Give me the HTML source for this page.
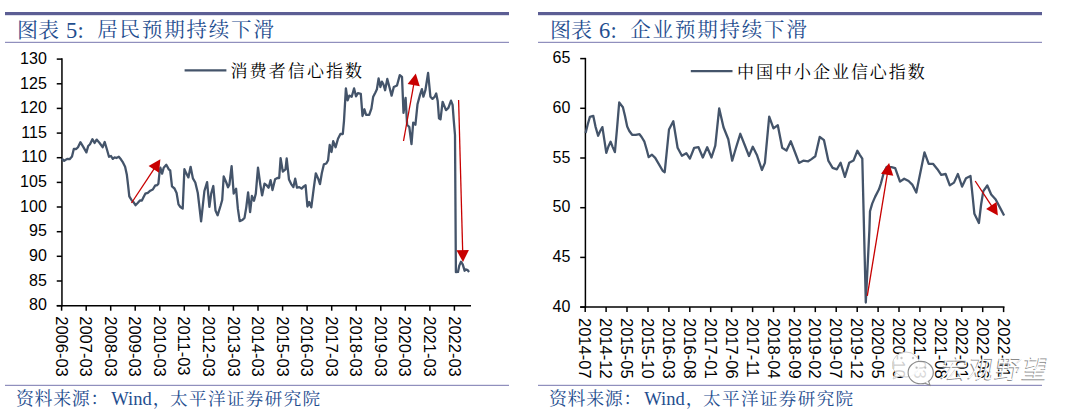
<!DOCTYPE html>
<html><head><meta charset="utf-8"><style>
html,body{margin:0;padding:0;background:#fff;}
svg{display:block;}
</style></head><body>
<svg width="1080" height="417" viewBox="0 0 1080 417">
<rect width="1080" height="417" fill="#fff"/>
<rect x="5" y="12" width="504" height="3.2" fill="#5c5e94"/><rect x="5" y="41.8" width="504" height="1.1" fill="#8483b6"/><rect x="5" y="384.8" width="504" height="1.1" fill="#8483b6"/><text x="17" y="37.3" font-family="'Noto Serif CJK SC','Liberation Serif',serif" font-size="21" fill="#1f4e8f" font-weight="400">图表</text><text x="66" y="37.7" font-family="'Liberation Serif','Noto Serif CJK SC',serif" font-size="22.5" fill="#1f4e8f">5</text><text x="77.5" y="37.7" font-family="'Liberation Serif','Noto Serif CJK SC',serif" font-size="22.5" fill="#1f4e8f">:</text><text x="97.3" y="36.9" font-family="'Noto Serif CJK SC','Liberation Serif',serif" font-size="20.5" fill="#1f4e8f" letter-spacing="1.8" font-weight="400">居民预期持续下滑</text><text x="16" y="405" font-family="'Noto Serif CJK SC','Liberation Serif',serif" font-size="18" fill="#1f4e8f" letter-spacing="0.6" font-weight="400">资料来源：</text><text x="111.3" y="405" font-family="'Liberation Serif','Noto Serif CJK SC',serif" font-size="18.5" fill="#1f4e8f">Wind</text><text x="152.7" y="405" font-family="'Noto Serif CJK SC','Liberation Serif',serif" font-size="18" fill="#1f4e8f" font-weight="400">，</text><text x="170" y="404.8" font-family="'Noto Serif CJK SC','Liberation Serif',serif" font-size="17.6" fill="#1f4e8f" letter-spacing="1.35" font-weight="400">太平洋证券研究院</text><text x="46.8" y="63.8" text-anchor="end" font-family="'Liberation Sans',Arial,sans-serif" font-size="16" fill="#000">130</text><line x1="56.75" y1="59.1" x2="61.95" y2="59.1" stroke="#000" stroke-width="1.5"/><text x="46.8" y="88.5" text-anchor="end" font-family="'Liberation Sans',Arial,sans-serif" font-size="16" fill="#000">125</text><line x1="56.75" y1="83.8" x2="61.95" y2="83.8" stroke="#000" stroke-width="1.5"/><text x="46.8" y="113.1" text-anchor="end" font-family="'Liberation Sans',Arial,sans-serif" font-size="16" fill="#000">120</text><line x1="56.75" y1="108.4" x2="61.95" y2="108.4" stroke="#000" stroke-width="1.5"/><text x="46.8" y="137.8" text-anchor="end" font-family="'Liberation Sans',Arial,sans-serif" font-size="16" fill="#000">115</text><line x1="56.75" y1="133.1" x2="61.95" y2="133.1" stroke="#000" stroke-width="1.5"/><text x="46.8" y="162.4" text-anchor="end" font-family="'Liberation Sans',Arial,sans-serif" font-size="16" fill="#000">110</text><line x1="56.75" y1="157.7" x2="61.95" y2="157.7" stroke="#000" stroke-width="1.5"/><text x="46.8" y="187.1" text-anchor="end" font-family="'Liberation Sans',Arial,sans-serif" font-size="16" fill="#000">105</text><line x1="56.75" y1="182.4" x2="61.95" y2="182.4" stroke="#000" stroke-width="1.5"/><text x="46.8" y="211.7" text-anchor="end" font-family="'Liberation Sans',Arial,sans-serif" font-size="16" fill="#000">100</text><line x1="56.75" y1="207.0" x2="61.95" y2="207.0" stroke="#000" stroke-width="1.5"/><text x="46.8" y="236.4" text-anchor="end" font-family="'Liberation Sans',Arial,sans-serif" font-size="16" fill="#000">95</text><line x1="56.75" y1="231.7" x2="61.95" y2="231.7" stroke="#000" stroke-width="1.5"/><text x="46.8" y="261.0" text-anchor="end" font-family="'Liberation Sans',Arial,sans-serif" font-size="16" fill="#000">90</text><line x1="56.75" y1="256.3" x2="61.95" y2="256.3" stroke="#000" stroke-width="1.5"/><text x="46.8" y="285.7" text-anchor="end" font-family="'Liberation Sans',Arial,sans-serif" font-size="16" fill="#000">85</text><line x1="56.75" y1="281.0" x2="61.95" y2="281.0" stroke="#000" stroke-width="1.5"/><text x="46.8" y="310.4" text-anchor="end" font-family="'Liberation Sans',Arial,sans-serif" font-size="16" fill="#000">80</text><line x1="56.75" y1="305.7" x2="61.95" y2="305.7" stroke="#000" stroke-width="1.5"/><line x1="61.95" y1="58.35" x2="61.95" y2="306.45" stroke="#000" stroke-width="1.5"/><line x1="56.75" y1="305.7" x2="471" y2="305.7" stroke="#000" stroke-width="1.5"/><line x1="61.6" y1="305.7" x2="61.6" y2="310.7" stroke="#000" stroke-width="1.5"/><text transform="translate(55.7,316.2) rotate(90)" font-family="'Liberation Sans',Arial,sans-serif" font-size="16.5" fill="#000">2006-03</text><line x1="86.2" y1="305.7" x2="86.2" y2="310.7" stroke="#000" stroke-width="1.5"/><text transform="translate(80.2,316.2) rotate(90)" font-family="'Liberation Sans',Arial,sans-serif" font-size="16.5" fill="#000">2007-03</text><line x1="110.7" y1="305.7" x2="110.7" y2="310.7" stroke="#000" stroke-width="1.5"/><text transform="translate(104.8,316.2) rotate(90)" font-family="'Liberation Sans',Arial,sans-serif" font-size="16.5" fill="#000">2008-03</text><line x1="135.2" y1="305.7" x2="135.2" y2="310.7" stroke="#000" stroke-width="1.5"/><text transform="translate(129.3,316.2) rotate(90)" font-family="'Liberation Sans',Arial,sans-serif" font-size="16.5" fill="#000">2009-03</text><line x1="159.8" y1="305.7" x2="159.8" y2="310.7" stroke="#000" stroke-width="1.5"/><text transform="translate(153.9,316.2) rotate(90)" font-family="'Liberation Sans',Arial,sans-serif" font-size="16.5" fill="#000">2010-03</text><line x1="184.3" y1="305.7" x2="184.3" y2="310.7" stroke="#000" stroke-width="1.5"/><text transform="translate(178.4,316.2) rotate(90)" font-family="'Liberation Sans',Arial,sans-serif" font-size="16.5" fill="#000">2011-03</text><line x1="208.9" y1="305.7" x2="208.9" y2="310.7" stroke="#000" stroke-width="1.5"/><text transform="translate(203.0,316.2) rotate(90)" font-family="'Liberation Sans',Arial,sans-serif" font-size="16.5" fill="#000">2012-03</text><line x1="233.4" y1="305.7" x2="233.4" y2="310.7" stroke="#000" stroke-width="1.5"/><text transform="translate(227.5,316.2) rotate(90)" font-family="'Liberation Sans',Arial,sans-serif" font-size="16.5" fill="#000">2013-03</text><line x1="258.0" y1="305.7" x2="258.0" y2="310.7" stroke="#000" stroke-width="1.5"/><text transform="translate(252.1,316.2) rotate(90)" font-family="'Liberation Sans',Arial,sans-serif" font-size="16.5" fill="#000">2014-03</text><line x1="282.6" y1="305.7" x2="282.6" y2="310.7" stroke="#000" stroke-width="1.5"/><text transform="translate(276.7,316.2) rotate(90)" font-family="'Liberation Sans',Arial,sans-serif" font-size="16.5" fill="#000">2015-03</text><line x1="307.1" y1="305.7" x2="307.1" y2="310.7" stroke="#000" stroke-width="1.5"/><text transform="translate(301.2,316.2) rotate(90)" font-family="'Liberation Sans',Arial,sans-serif" font-size="16.5" fill="#000">2016-03</text><line x1="331.7" y1="305.7" x2="331.7" y2="310.7" stroke="#000" stroke-width="1.5"/><text transform="translate(325.8,316.2) rotate(90)" font-family="'Liberation Sans',Arial,sans-serif" font-size="16.5" fill="#000">2017-03</text><line x1="356.2" y1="305.7" x2="356.2" y2="310.7" stroke="#000" stroke-width="1.5"/><text transform="translate(350.3,316.2) rotate(90)" font-family="'Liberation Sans',Arial,sans-serif" font-size="16.5" fill="#000">2018-03</text><line x1="380.8" y1="305.7" x2="380.8" y2="310.7" stroke="#000" stroke-width="1.5"/><text transform="translate(374.9,316.2) rotate(90)" font-family="'Liberation Sans',Arial,sans-serif" font-size="16.5" fill="#000">2019-03</text><line x1="405.3" y1="305.7" x2="405.3" y2="310.7" stroke="#000" stroke-width="1.5"/><text transform="translate(399.4,316.2) rotate(90)" font-family="'Liberation Sans',Arial,sans-serif" font-size="16.5" fill="#000">2020-03</text><line x1="429.9" y1="305.7" x2="429.9" y2="310.7" stroke="#000" stroke-width="1.5"/><text transform="translate(424.0,316.2) rotate(90)" font-family="'Liberation Sans',Arial,sans-serif" font-size="16.5" fill="#000">2021-03</text><line x1="454.4" y1="305.7" x2="454.4" y2="310.7" stroke="#000" stroke-width="1.5"/><text transform="translate(448.5,316.2) rotate(90)" font-family="'Liberation Sans',Arial,sans-serif" font-size="16.5" fill="#000">2022-03</text><line x1="184.6" y1="70.4" x2="226.4" y2="70.4" stroke="#44546A" stroke-width="2.2"/><text x="230.5" y="76.9" font-family="'Noto Serif CJK SC','Liberation Serif',serif" font-size="17" fill="#000" letter-spacing="2.1" font-weight="400">消费者信心指数</text><polyline points="61.8,158.6 64.2,160.8 67.2,158.9 69.6,159.2 72.0,156.5 73.8,149.0 76.2,149.0 78.0,147.2 80.4,142.2 83.4,147.2 86.4,152.4 88.2,146.0 90.0,144.2 92.4,139.2 94.6,143.0 96.6,139.6 99.6,143.0 102.6,147.2 104.7,142.0 106.8,149.0 109.0,156.8 111.0,156.0 112.8,158.9 114.6,157.4 116.4,158.0 118.8,156.8 120.9,159.3 122.6,161.8 125.1,166.8 126.8,174.4 128.1,185.3 129.3,196.3 131.8,200.5 133.5,202.1 135.5,205.2 137.7,203.0 139.9,200.5 141.9,200.5 143.6,197.1 145.3,193.7 147.8,192.9 150.3,190.7 152.8,189.5 155.3,185.3 157.0,185.3 158.4,183.7 159.5,172.7 160.4,167.7 162.1,173.6 163.7,167.7 166.3,164.8 168.8,169.4 170.2,170.5 172.0,186.4 174.5,188.5 176.6,193.0 178.5,204.4 180.4,207.0 182.7,208.5 184.4,169.2 186.3,173.4 188.4,177.4 190.6,166.8 192.9,178.4 195.3,182.5 197.8,193.0 201.1,221.4 204.4,191.0 207.1,182.2 209.4,206.8 211.2,193.6 213.3,186.0 215.5,210.5 217.6,215.3 220.5,206.0 222.2,200.0 223.7,176.5 226.5,183.0 228.0,187.3 229.4,184.6 231.6,166.1 233.7,193.6 236.1,188.8 237.9,208.9 239.7,221.1 242.4,220.0 244.5,217.9 246.3,207.1 248.1,192.4 250.1,212.1 251.9,196.0 254.0,200.8 255.8,193.6 258.0,167.6 260.3,184.6 262.1,195.4 264.5,183.7 266.6,185.2 268.6,187.7 270.6,180.1 272.5,190.0 275.1,179.3 277.4,178.0 279.2,178.0 280.6,158.2 282.8,171.5 285.5,169.4 286.7,158.5 289.0,179.6 291.2,184.1 293.4,187.1 295.2,178.7 297.0,187.7 299.3,187.1 301.6,188.6 303.8,186.4 305.6,185.3 307.4,206.5 309.2,202.0 311.3,207.4 313.7,188.6 315.8,173.3 318.2,178.7 320.0,184.1 321.8,173.3 323.9,164.3 326.3,163.5 328.1,160.2 329.7,145.0 331.5,152.0 333.2,141.2 335.6,147.2 338.0,138.8 340.4,134.0 342.8,134.0 344.0,120.8 345.9,88.4 347.6,100.4 349.3,95.6 351.7,96.8 354.1,88.4 356.0,96.3 357.9,93.2 360.8,93.9 362.5,116.0 364.4,109.3 366.1,114.8 369.2,114.8 371.4,108.6 373.2,96.7 375.4,92.4 376.9,89.2 378.6,78.4 380.4,87.0 381.9,81.6 383.4,84.2 385.1,90.2 387.3,79.0 389.4,87.0 391.6,95.6 393.8,87.0 397.0,85.5 399.8,75.1 402.0,76.8 403.5,112.9 405.6,97.8 407.1,124.8 409.3,127.0 411.5,144.2 413.2,122.6 415.4,124.8 417.5,104.3 420.1,94.6 421.9,89.2 423.4,96.7 425.4,90.2 428.1,73.0 430.4,96.7 432.5,98.9 434.7,96.7 436.2,93.5 437.7,101.0 439.0,118.3 440.5,119.4 442.6,101.8 446.0,110.1 448.4,107.8 451.0,100.6 452.6,104.8 453.8,120.9 455.0,135.0 455.9,272.2 458.0,271.9 459.2,265.9 461.0,261.7 462.8,264.7 464.6,270.7 465.7,269.5 467.3,269.8 469.1,271.9" fill="none" stroke="#44546A" stroke-width="2.3" stroke-linejoin="round"/><line x1="131.5" y1="203.0" x2="154.9" y2="167.6" stroke="#C80000" stroke-width="1.3"/><polygon points="160.4,159.3 159.0,172.7 148.6,165.9" fill="#C80000"/><line x1="403.5" y1="141.0" x2="414.0" y2="83.2" stroke="#C80000" stroke-width="1.3"/><polygon points="415.8,73.4 419.8,86.3 407.6,84.1" fill="#C80000"/><line x1="458.6" y1="100.0" x2="462.7" y2="252.1" stroke="#C80000" stroke-width="1.3"/><polygon points="463.0,262.1 456.5,250.3 468.9,249.9" fill="#C80000"/>
<rect x="538" y="12" width="504" height="3.2" fill="#5c5e94"/><rect x="538" y="41.8" width="504" height="1.1" fill="#8483b6"/><rect x="538" y="384.8" width="504" height="1.1" fill="#8483b6"/><text x="550" y="37.3" font-family="'Noto Serif CJK SC','Liberation Serif',serif" font-size="21" fill="#1f4e8f" font-weight="400">图表</text><text x="599" y="37.7" font-family="'Liberation Serif','Noto Serif CJK SC',serif" font-size="22.5" fill="#1f4e8f">6</text><text x="610.5" y="37.7" font-family="'Liberation Serif','Noto Serif CJK SC',serif" font-size="22.5" fill="#1f4e8f">:</text><text x="630.3" y="36.9" font-family="'Noto Serif CJK SC','Liberation Serif',serif" font-size="20.5" fill="#1f4e8f" letter-spacing="1.8" font-weight="400">企业预期持续下滑</text><text x="549" y="405" font-family="'Noto Serif CJK SC','Liberation Serif',serif" font-size="18" fill="#1f4e8f" letter-spacing="0.6" font-weight="400">资料来源：</text><text x="644.3" y="405" font-family="'Liberation Serif','Noto Serif CJK SC',serif" font-size="18.5" fill="#1f4e8f">Wind</text><text x="685.7" y="405" font-family="'Noto Serif CJK SC','Liberation Serif',serif" font-size="18" fill="#1f4e8f" font-weight="400">，</text><text x="703" y="404.8" font-family="'Noto Serif CJK SC','Liberation Serif',serif" font-size="17.6" fill="#1f4e8f" letter-spacing="1.35" font-weight="400">太平洋证券研究院</text><text x="570.3" y="63.3" text-anchor="end" font-family="'Liberation Sans',Arial,sans-serif" font-size="16" fill="#000">65</text><line x1="580.1999999999999" y1="58.6" x2="585.4" y2="58.6" stroke="#000" stroke-width="1.5"/><text x="570.3" y="113.0" text-anchor="end" font-family="'Liberation Sans',Arial,sans-serif" font-size="16" fill="#000">60</text><line x1="580.1999999999999" y1="108.3" x2="585.4" y2="108.3" stroke="#000" stroke-width="1.5"/><text x="570.3" y="162.7" text-anchor="end" font-family="'Liberation Sans',Arial,sans-serif" font-size="16" fill="#000">55</text><line x1="580.1999999999999" y1="158.0" x2="585.4" y2="158.0" stroke="#000" stroke-width="1.5"/><text x="570.3" y="212.4" text-anchor="end" font-family="'Liberation Sans',Arial,sans-serif" font-size="16" fill="#000">50</text><line x1="580.1999999999999" y1="207.7" x2="585.4" y2="207.7" stroke="#000" stroke-width="1.5"/><text x="570.3" y="262.1" text-anchor="end" font-family="'Liberation Sans',Arial,sans-serif" font-size="16" fill="#000">45</text><line x1="580.1999999999999" y1="257.4" x2="585.4" y2="257.4" stroke="#000" stroke-width="1.5"/><text x="570.3" y="311.8" text-anchor="end" font-family="'Liberation Sans',Arial,sans-serif" font-size="16" fill="#000">40</text><line x1="580.1999999999999" y1="307.1" x2="585.4" y2="307.1" stroke="#000" stroke-width="1.5"/><line x1="585.4" y1="57.85" x2="585.4" y2="307.85" stroke="#000" stroke-width="1.5"/><line x1="580.1999999999999" y1="307.1" x2="1004.5" y2="307.1" stroke="#000" stroke-width="1.5"/><line x1="585.2" y1="307.1" x2="585.2" y2="312.1" stroke="#000" stroke-width="1.5"/><text transform="translate(579.3,318) rotate(90)" font-family="'Liberation Sans',Arial,sans-serif" font-size="16.5" fill="#000">2014-07</text><line x1="606.1" y1="307.1" x2="606.1" y2="312.1" stroke="#000" stroke-width="1.5"/><text transform="translate(600.2,318) rotate(90)" font-family="'Liberation Sans',Arial,sans-serif" font-size="16.5" fill="#000">2014-12</text><line x1="627.0" y1="307.1" x2="627.0" y2="312.1" stroke="#000" stroke-width="1.5"/><text transform="translate(621.1,318) rotate(90)" font-family="'Liberation Sans',Arial,sans-serif" font-size="16.5" fill="#000">2015-05</text><line x1="648.0" y1="307.1" x2="648.0" y2="312.1" stroke="#000" stroke-width="1.5"/><text transform="translate(642.1,318) rotate(90)" font-family="'Liberation Sans',Arial,sans-serif" font-size="16.5" fill="#000">2015-10</text><line x1="668.9" y1="307.1" x2="668.9" y2="312.1" stroke="#000" stroke-width="1.5"/><text transform="translate(663.0,318) rotate(90)" font-family="'Liberation Sans',Arial,sans-serif" font-size="16.5" fill="#000">2016-03</text><line x1="689.8" y1="307.1" x2="689.8" y2="312.1" stroke="#000" stroke-width="1.5"/><text transform="translate(683.9,318) rotate(90)" font-family="'Liberation Sans',Arial,sans-serif" font-size="16.5" fill="#000">2016-08</text><line x1="710.7" y1="307.1" x2="710.7" y2="312.1" stroke="#000" stroke-width="1.5"/><text transform="translate(704.8,318) rotate(90)" font-family="'Liberation Sans',Arial,sans-serif" font-size="16.5" fill="#000">2017-01</text><line x1="731.6" y1="307.1" x2="731.6" y2="312.1" stroke="#000" stroke-width="1.5"/><text transform="translate(725.7,318) rotate(90)" font-family="'Liberation Sans',Arial,sans-serif" font-size="16.5" fill="#000">2017-06</text><line x1="752.6" y1="307.1" x2="752.6" y2="312.1" stroke="#000" stroke-width="1.5"/><text transform="translate(746.7,318) rotate(90)" font-family="'Liberation Sans',Arial,sans-serif" font-size="16.5" fill="#000">2017-11</text><line x1="773.5" y1="307.1" x2="773.5" y2="312.1" stroke="#000" stroke-width="1.5"/><text transform="translate(767.6,318) rotate(90)" font-family="'Liberation Sans',Arial,sans-serif" font-size="16.5" fill="#000">2018-04</text><line x1="794.4" y1="307.1" x2="794.4" y2="312.1" stroke="#000" stroke-width="1.5"/><text transform="translate(788.5,318) rotate(90)" font-family="'Liberation Sans',Arial,sans-serif" font-size="16.5" fill="#000">2018-09</text><line x1="815.3" y1="307.1" x2="815.3" y2="312.1" stroke="#000" stroke-width="1.5"/><text transform="translate(809.4,318) rotate(90)" font-family="'Liberation Sans',Arial,sans-serif" font-size="16.5" fill="#000">2019-02</text><line x1="836.2" y1="307.1" x2="836.2" y2="312.1" stroke="#000" stroke-width="1.5"/><text transform="translate(830.3,318) rotate(90)" font-family="'Liberation Sans',Arial,sans-serif" font-size="16.5" fill="#000">2019-07</text><line x1="857.2" y1="307.1" x2="857.2" y2="312.1" stroke="#000" stroke-width="1.5"/><text transform="translate(851.3,318) rotate(90)" font-family="'Liberation Sans',Arial,sans-serif" font-size="16.5" fill="#000">2019-12</text><line x1="878.1" y1="307.1" x2="878.1" y2="312.1" stroke="#000" stroke-width="1.5"/><text transform="translate(872.2,318) rotate(90)" font-family="'Liberation Sans',Arial,sans-serif" font-size="16.5" fill="#000">2020-05</text><line x1="899.0" y1="307.1" x2="899.0" y2="312.1" stroke="#000" stroke-width="1.5"/><text transform="translate(893.1,318) rotate(90)" font-family="'Liberation Sans',Arial,sans-serif" font-size="16.5" fill="#000">2020-10</text><line x1="919.9" y1="307.1" x2="919.9" y2="312.1" stroke="#000" stroke-width="1.5"/><text transform="translate(914.0,318) rotate(90)" font-family="'Liberation Sans',Arial,sans-serif" font-size="16.5" fill="#000">2021-03</text><line x1="940.8" y1="307.1" x2="940.8" y2="312.1" stroke="#000" stroke-width="1.5"/><text transform="translate(934.9,318) rotate(90)" font-family="'Liberation Sans',Arial,sans-serif" font-size="16.5" fill="#000">2021-08</text><line x1="961.8" y1="307.1" x2="961.8" y2="312.1" stroke="#000" stroke-width="1.5"/><text transform="translate(955.9,318) rotate(90)" font-family="'Liberation Sans',Arial,sans-serif" font-size="16.5" fill="#000">2022-01</text><line x1="982.7" y1="307.1" x2="982.7" y2="312.1" stroke="#000" stroke-width="1.5"/><text transform="translate(976.8,318) rotate(90)" font-family="'Liberation Sans',Arial,sans-serif" font-size="16.5" fill="#000">2022-06</text><line x1="1003.6" y1="307.1" x2="1003.6" y2="312.1" stroke="#000" stroke-width="1.5"/><text transform="translate(997.7,318) rotate(90)" font-family="'Liberation Sans',Arial,sans-serif" font-size="16.5" fill="#000">2022-11</text><line x1="690.8" y1="71.2" x2="732.5" y2="71.2" stroke="#44546A" stroke-width="2.2"/><text x="737" y="77.7" font-family="'Noto Serif CJK SC','Liberation Serif',serif" font-size="17" fill="#000" letter-spacing="1.98" font-weight="400">中国中小企业信心指数</text><polyline points="585.6,133.1 587.7,124.5 589.9,116.9 593.3,115.9 595.5,126.6 598.1,135.7 600.2,131.0 602.4,127.1 604.6,141.7 606.3,152.9 608.4,146.5 610.6,141.7 612.7,147.1 614.9,152.1 617.0,128.8 619.2,102.5 622.9,107.2 625.0,115.9 627.2,126.6 629.3,131.0 632.1,134.8 635.8,134.8 639.5,134.2 641.6,137.0 644.4,141.7 646.6,149.3 648.7,157.2 652.0,154.7 655.2,157.9 658.4,163.3 662.7,170.8 664.7,172.2 669.0,129.5 673.3,121.3 677.6,147.8 681.9,155.8 686.3,153.2 689.9,158.6 694.2,147.8 698.5,147.2 702.8,157.5 707.2,147.2 711.5,157.5 715.3,145.6 719.2,108.4 723.5,127.3 728.3,139.2 732.2,160.7 736.0,147.8 740.3,133.8 744.7,145.0 749.0,156.0 752.8,146.7 756.9,154.9 761.9,170.0 764.9,162.9 769.2,116.6 773.5,128.4 777.8,125.2 782.2,147.8 786.5,150.6 790.8,141.3 794.7,151.5 799.0,162.9 803.3,160.7 808.2,161.3 811.5,159.1 815.3,156.3 819.7,136.9 824.0,140.2 828.3,160.6 832.6,167.8 836.9,169.3 840.6,162.8 844.9,176.8 849.2,162.8 853.5,160.6 857.4,150.8 859.8,154.8 862.3,158.6 865.8,302.5 869.4,229.9 870.0,211.3 872.2,203.6 875.1,196.9 879.0,189.3 880.9,183.5 883.7,173.0 886.6,166.9 891.4,167.2 895.2,168.2 900.0,181.6 904.2,178.7 908.6,181.0 912.5,184.9 916.3,192.5 924.5,152.3 928.7,163.8 933.0,163.8 937.4,169.2 941.2,174.9 945.6,174.0 949.8,185.4 954.0,182.6 957.9,174.0 962.1,186.6 966.0,178.2 970.5,176.0 972.7,197.0 974.4,213.8 978.9,223.0 981.1,204.5 983.3,191.1 987.3,185.5 991.2,194.5 995.7,199.5 1000.1,207.9 1004.1,215.5" fill="none" stroke="#44546A" stroke-width="2.3" stroke-linejoin="round"/><line x1="867.3" y1="295.8" x2="887.5" y2="172.9" stroke="#C80000" stroke-width="1.3"/><polygon points="889.1,163.0 893.3,175.8 881.0,173.8" fill="#C80000"/><line x1="975.2" y1="181.0" x2="992.4" y2="207.1" stroke="#C80000" stroke-width="1.3"/><polygon points="997.9,215.5 986.1,208.9 996.5,202.1" fill="#C80000"/>
<ellipse cx="906" cy="364.5" rx="13.5" ry="12.5" fill="#fff" fill-opacity="0.8" stroke="#cfcfcf" stroke-width="1"/><path d="M896,373 l-3,6 l7,-3" fill="#fff" fill-opacity="0.8" stroke="#cfcfcf" stroke-width="1"/><circle cx="901.5" cy="358" r="1.2" fill="#c8c8c8"/><circle cx="913" cy="358" r="1.2" fill="#c8c8c8"/><ellipse cx="920.7" cy="372.5" rx="12.6" ry="11.3" fill="#fff" fill-opacity="0.85" stroke="#8a8a8a" stroke-width="1.1"/><path d="M925,383.3 l5,2 l-1.5,-4.5" fill="#fff" stroke="#8a8a8a" stroke-width="1.1"/><circle cx="916.6" cy="367.7" r="1.1" fill="#bbb"/><circle cx="925.3" cy="367.7" r="1.1" fill="#bbb"/><g transform="translate(935,378) skewX(-10)"><text x="4.2" y="1" font-family="'Noto Sans CJK SC','WenQuanYi Zen Hei',sans-serif" font-size="26" fill="#8a8a8a" letter-spacing="1" font-weight="300">宏观野望</text><text x="5" y="0" font-family="'Noto Sans CJK SC','WenQuanYi Zen Hei',sans-serif" font-size="26" fill="#fff" letter-spacing="1" font-weight="300">宏观野望</text></g>
</svg>
</body></html>
